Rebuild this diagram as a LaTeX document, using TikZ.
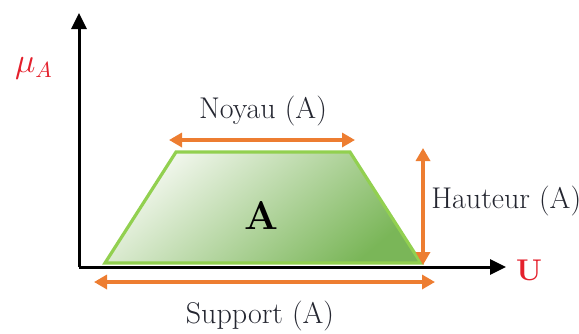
\documentclass[tikz,border=0pt]{standalone}
\usepackage{amsmath,amssymb}
\usepackage{xcolor}
\usepackage{tikz}
\usetikzlibrary{positioning,arrows.meta,calc}
\definecolor{measureorange}{RGB}{237,125,49}
\definecolor{setgreen}{RGB}{146,208,80}
\definecolor{setgreendark}{RGB}{122,182,88}
\definecolor{setgreenlight}{RGB}{244,248,240}
\definecolor{axisred}{RGB}{228,32,44}
\definecolor{textgray}{RGB}{36,38,48}
\tikzset{
  axis-arrow/.style={-{Triangle[length=8pt, width=7.5pt]}, line width=1.5pt, draw=black},
  measure-arrow/.style={{Triangle[length=6.5pt, width=7pt]}-{Triangle[length=6.5pt, width=7pt]},
    line width=2pt, draw=measureorange},
  set-shape/.style={draw=setgreen, line width=1.6pt, line join=miter,
    top color=setgreenlight, bottom color=setgreendark, shading angle=40},
  measure-label/.style={font=\fontsize{15}{17}\selectfont, text=textgray, inner sep=0pt},
  axis-label/.style={font=\fontsize{15}{17}\selectfont\bfseries, text=axisred, inner sep=0pt}
}
\begin{document}
\begin{tikzpicture}[x=0.5pt, y=-0.5pt]
\useasboundingbox (0,0) rectangle (579,333);
% axes and trapezoid corners
\coordinate (origin) at (79,267);
\coordinate (ytip) at (79,13);
\coordinate (xtip) at (506,267);
\coordinate (bl) at (105,263);
\coordinate (br) at (421,263);
\coordinate (tr) at (350,152);
\coordinate (tl) at (176,152);
% ends of the measure arrows
\coordinate (noyauL) at (169,140);
\coordinate (noyauR) at (355,140);
\coordinate (hautT) at (423,148);
\coordinate (hautB) at (423,265);
\coordinate (suppL) at (94,282);
\coordinate (suppR) at (435,282);
% fuzzy set A
\path[set-shape] (bl) -- (br) -- (tr) -- (tl) -- cycle;
\node[font=\fontsize{20}{22}\selectfont\bfseries, text=black] (area) at (261,215) {A};
% axes
\draw[axis-arrow] (origin) -- (ytip);
\draw[axis-arrow] (origin) -- (xtip);
\node[axis-label, font=\fontsize{16}{18}\selectfont] (mu) at (34,68) {$\mu_{A}$};
\node[axis-label] (universe) at (529,270) {U};
% measures
\draw[measure-arrow] (noyauL) -- (noyauR);
\draw[measure-arrow] (hautT) -- (hautB);
\draw[measure-arrow] (suppL) -- (suppR);
\node[measure-label] (noyau) at (263,111) {Noyau (A)};
\node[measure-label, anchor=west] (hauteur) at (431,201) {Hauteur (A)};
\node[measure-label] (support) at (260,316) {Support (A)};
\end{tikzpicture}
\end{document}
